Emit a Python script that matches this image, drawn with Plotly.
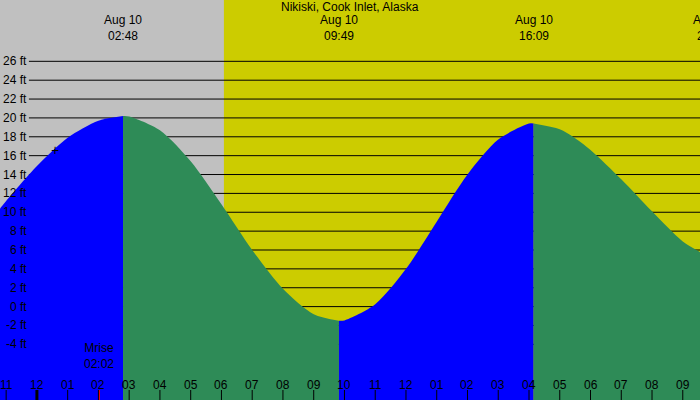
import plotly.graph_objects as go

title = "Nikiski, Cook Inlet, Alaska"
# tide segments (hours since midnight Aug 10, feet)
rise1_t = [-1.2, -1, 0, 1, 2, 2.8]
rise1_h = [10.4, 11.2, 14.9, 17.9, 19.7, 20.2]
fall1_t = [2.8, 3, 4, 5, 6, 7, 8, 9, 9.82]
fall1_h = [20.2, 20.16, 18.7, 15.4, 10.85, 6.0, 1.9, -0.8, -1.5]
rise2_t = [9.82, 10, 11, 12, 13, 14, 15, 16, 16.15]
rise2_h = [-1.5, -1.46, 0.25, 4.0, 9.0, 14.0, 17.7, 19.4, 19.4]
fall2_t = [16.15, 17, 17.43, 18, 19, 20, 21, 21.56]
fall2_h = [19.4, 18.8, 18.0, 16.6, 13.5, 10.1, 6.9, 5.8]

extreme_t = [2.8, 9.82, 16.15, 21.95]
extreme_lbl = ["Aug 10<br>02:48", "Aug 10<br>09:49", "Aug 10<br>16:09", "Aug 10<br>21:57"]
sunrise = 6.08
moonrise = 2.033
ft_levels = list(range(-4, 27, 2))
hour_t = list(range(-1, 22))
hour_lbl = ["11","12","01","02","03","04","05","06","07","08","09","10","11","12","01","02","03","04","05","06","07","08","09"]

XMIN, XMAX, YMIN, YMAX = -1.2, 21.56, -9.9, 32.5
BLUE, GREEN = "#0000ff", "#2e8b57"
FONT = "Liberation Sans, Arial, sans-serif"

def px(t):
    return (t - XMIN) / (XMAX - XMIN)

fig = go.Figure()
for ts, hs, col in [(rise1_t, rise1_h, BLUE), (fall1_t, fall1_h, GREEN),
                    (rise2_t, rise2_h, BLUE), (fall2_t, fall2_h, GREEN)]:
    fig.add_trace(go.Scatter(x=[ts[0], ts[-1]], y=[YMIN, YMIN], mode="lines",
                             line=dict(width=0, color=col), hoverinfo="skip", showlegend=False))
    fig.add_trace(go.Scatter(x=ts, y=hs, mode="lines",
                             line=dict(width=0, color=col, shape="spline", smoothing=0.8),
                             fill="tonexty", fillcolor=col, hoverinfo="skip", showlegend=False))

shapes = [
    dict(type="rect", xref="x", yref="paper", x0=XMIN - 1, x1=sunrise, y0=0, y1=1,
         fillcolor="#c0c0c0", line_width=0, layer="below"),
    dict(type="rect", xref="x", yref="paper", x0=sunrise, x1=XMAX + 1, y0=0, y1=1,
         fillcolor="#cccc00", line_width=0, layer="below"),
]
for f in ft_levels:
    shapes.append(dict(type="line", xref="x", yref="y", x0=-0.26, x1=XMAX + 1, y0=f, y1=f,
                       line=dict(color="black", width=1), layer="below"))
for t in hour_t:
    shapes.append(dict(type="line", xref="x", yref="paper", x0=t, x1=t, y0=0, y1=0.025,
                       line=dict(color="black", width=3 if t == 0 else 1)))
shapes.append(dict(type="line", xref="x", yref="paper", x0=moonrise, x1=moonrise, y0=0, y1=0.025,
                   line=dict(color="red", width=1)))

ann = []
for f in ft_levels:
    ann.append(dict(x=-0.27, y=f, xref="x", yref="y", text=f"{f} ft", showarrow=False,
                    xanchor="right", yanchor="middle", font=dict(size=12, color="black")))
for t, l in zip(hour_t, hour_lbl):
    ann.append(dict(x=px(t), y=15 / 400, xref="paper", yref="paper", text=l, showarrow=False,
                    xanchor="center", yanchor="middle", font=dict(size=12, color="black")))
for t, l in zip(extreme_t, extreme_lbl):
    ann.append(dict(x=px(t), y=1, xref="paper", yref="paper", yshift=-11, text=l, showarrow=False,
                    xanchor="center", yanchor="top", font=dict(size=12, color="black")))
ann.append(dict(x=px(moonrise), y=27 / 400, xref="paper", yref="paper", text="Mrise<br>02:02",
                showarrow=False, xanchor="center", yanchor="bottom", font=dict(size=12, color="black")))
ann.append(dict(x=0.5, y=1, xref="paper", yref="paper", yshift=2, text=title, showarrow=False,
                xanchor="center", yanchor="top", font=dict(size=12, color="black")))
ann.append(dict(x=0.59, y=16.6, xref="x", yref="y", text="+", showarrow=False,
                font=dict(size=14, color="black")))

fig.update_layout(
    width=700, height=400, margin=dict(l=0, r=0, t=0, b=0),
    paper_bgcolor="#c0c0c0", plot_bgcolor="#c0c0c0",
    font=dict(family=FONT, size=12, color="black"),
    xaxis=dict(range=[XMIN, XMAX], visible=False, fixedrange=True),
    yaxis=dict(range=[YMIN, YMAX], visible=False, fixedrange=True),
    shapes=shapes, annotations=ann, showlegend=False,
)
fig.write_html("out.html", config={"displayModeBar": False},
               post_script="document.body.style.margin='0';document.body.style.overflow='hidden';")
